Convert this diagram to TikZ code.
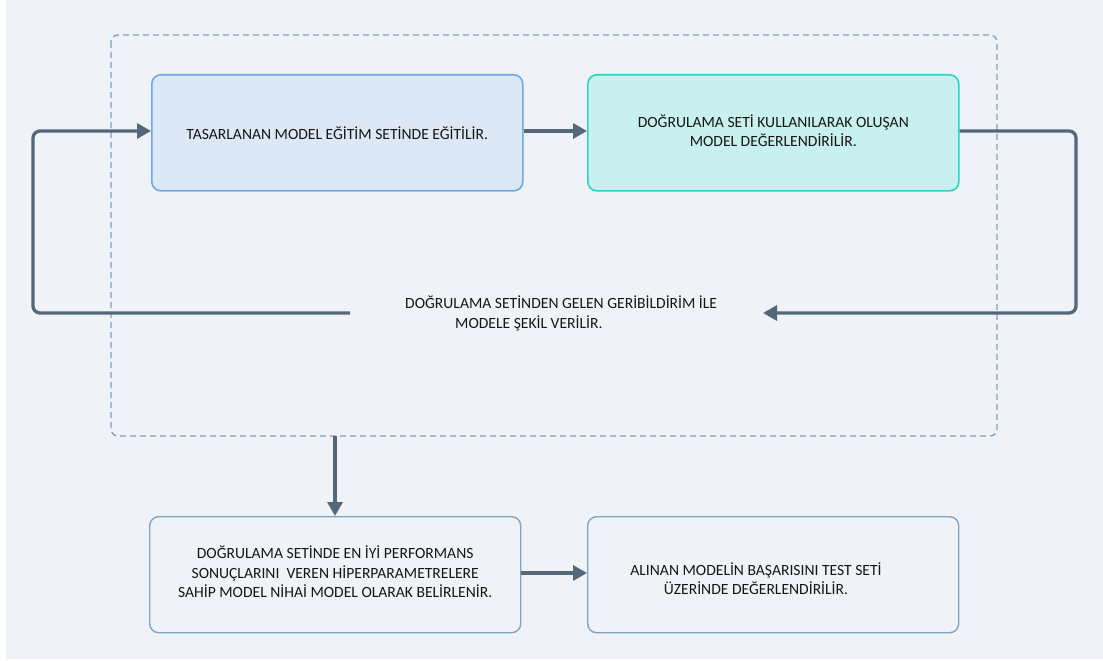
\documentclass[tikz,border=0pt]{standalone}
\usepackage{fontspec}
\setmainfont{Carlito}
\usetikzlibrary{arrows.meta}
\definecolor{pagebg}{HTML}{EFF3F8}
\definecolor{dashline}{HTML}{7E9FC2}
\definecolor{trainfill}{HTML}{DCE8F5}
\definecolor{trainline}{HTML}{6FA8E6}
\definecolor{valfill}{HTML}{C7F0EF}
\definecolor{valline}{HTML}{2DD4C6}
\definecolor{plainline}{HTML}{80A4C6}
\definecolor{conn}{HTML}{55677A}
\definecolor{txt}{HTML}{161616}
\tikzset{
  stagebox/.style={draw, line width=1.6pt, rounded corners=9pt, minimum width=371pt,
    minimum height=116pt, inner sep=0pt, anchor=north west},
  trainbox/.style={stagebox, draw=trainline, fill=trainfill},
  valbox/.style={stagebox, draw=valline, fill=valfill},
  plainbox/.style={stagebox, line width=1.4pt, draw=plainline, fill=pagebg},
  label/.style={text=txt, font=\fontsize{15.6pt}{19.3pt}\selectfont, align=center, inner sep=0pt},
  flow/.style={draw=conn, line width=3.3pt, rounded corners=7pt,
    -{Triangle[length=14pt,width=15pt]}},
}
\begin{document}
\begin{tikzpicture}[x=1pt,y=-1pt]
  % page
  \useasboundingbox (0,0) rectangle (1103,661);
  \fill[white] (0,0) rectangle (1103,661);
  \fill[pagebg] (6,0) rectangle (1103,659);

  % iteration frame
  \draw[dashline, line width=1.3pt, dash pattern=on 6pt off 4pt, rounded corners=7pt]
    (111,35) rectangle (997,436);

  % stages
  \node[trainbox] (train) at (151,74) {};
  \node[valbox] (val) at (587,74) {};
  \node[plainbox] (select) at (149,516) {};
  \node[plainbox] (test) at (587,516) {};

  \node[label] (traintxt) at (train.center) {TASARLANAN MODEL EĞİTİM SETİNDE EĞİTİLİR.};
  \node[label] (valtxt) at ([yshift=2pt]val.center) {DOĞRULAMA SETİ KULLANILARAK OLUŞAN\\MODEL DEĞERLENDİRİLİR.};
  \node[label] (selecttxt) at ([yshift=3pt]select.center) {DOĞRULAMA SETİNDE EN İYİ PERFORMANS\\SONUÇLARINI \ VEREN HİPERPARAMETRELERE\\SAHİP MODEL NİHAİ MODEL OLARAK BELİRLENİR.};
  \node[label] (testtxt) at (756,579) {ALINAN MODELİN BAŞARISINI TEST SETİ\\ÜZERİNDE DEĞERLENDİRİLİR.};
  \node[label, align=left, anchor=north west] (feedback) at (405,296)
    {DOĞRULAMA SETİNDEN GELEN GERİBİLDİRİM İLE\\\hspace*{50pt}MODELE ŞEKİL VERİLİR.};

  % loose ends of the feedback loop
  \coordinate (fbin) at (763,313);
  \coordinate (fbout) at (350,313);
  \coordinate (framebottom) at (335,436);

  % connectors
  \draw[flow] (train.east |- 0,131) -- (val.west |- 0,131);
  \draw[flow] (val.east |- 0,131) -- (1076,131) -- (1076,313) -- (fbin);
  \draw[flow] (fbout) -- (33,313) -- (33,131) -- (train.west |- 0,131);
  \draw[flow] (framebottom) -- (335,516);
  \draw[flow] (select.east |- 0,573) -- (test.west |- 0,573);
\end{tikzpicture}
\end{document}
